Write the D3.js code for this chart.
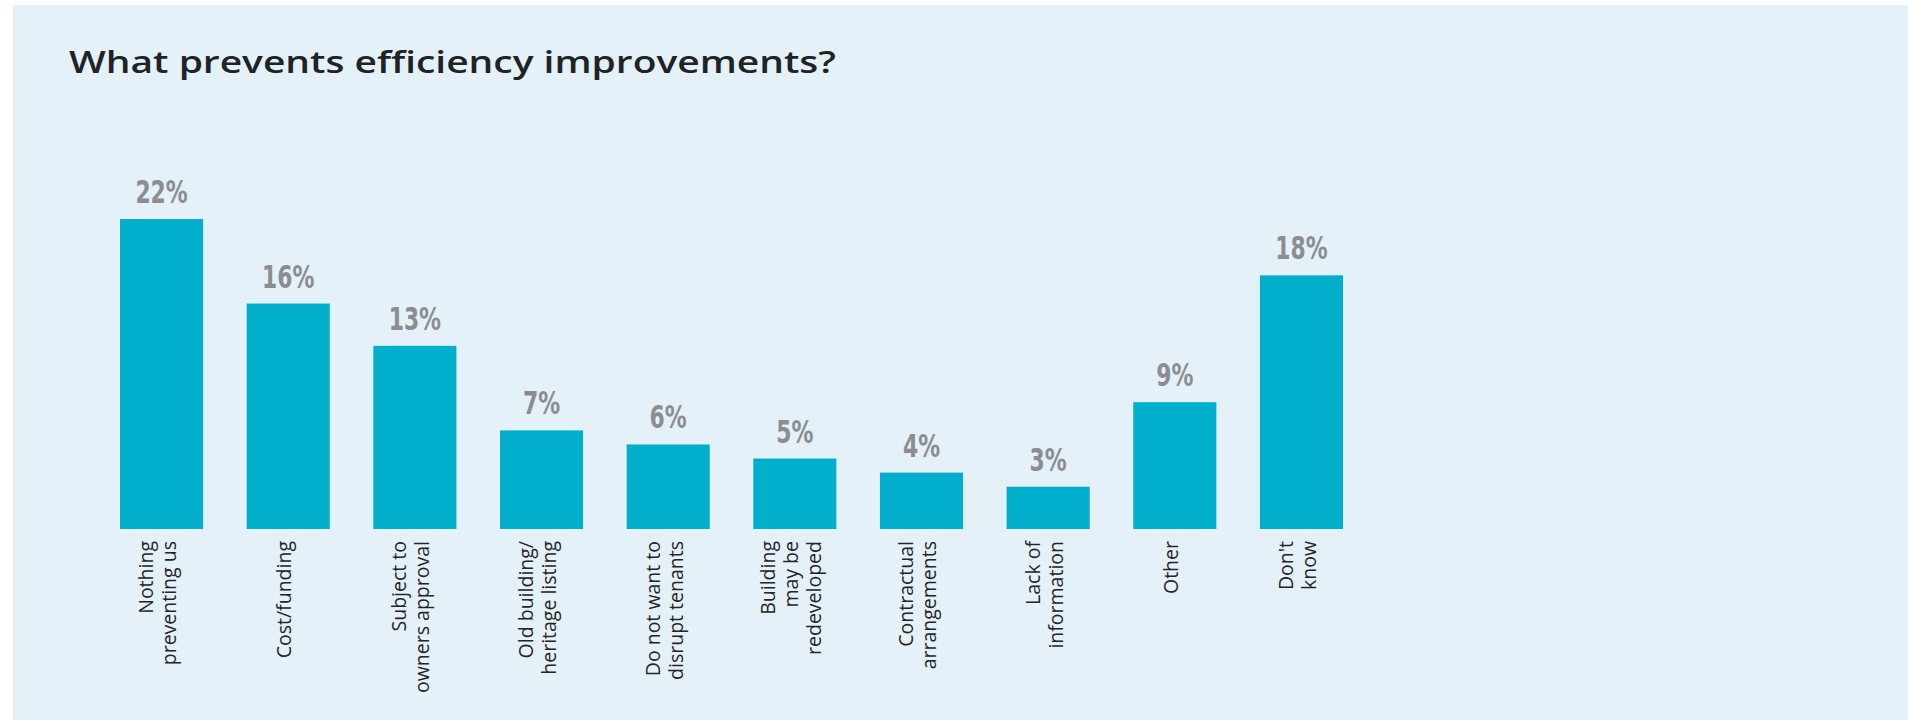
<!DOCTYPE html>
<html>
<head>
<meta charset="utf-8">
<script src="https://cdn.jsdelivr.net/npm/d3@7"></script>
<style>
  html, body { margin: 0; padding: 0; background: #ffffff; }
  svg { display: block; }
</style>
</head>
<body>
<div id="chart"></div>
<script>
// Survey answers: share of respondents naming each obstacle
const chartTitle = "What prevents efficiency improvements?";
const categories = [
  "Nothing\npreventing us",
  "Cost/funding",
  "Subject to\nowners approval",
  "Old building/\nheritage listing",
  "Do not want to\ndisrupt tenants",
  "Building\nmay be\nredeveloped",
  "Contractual\narrangements",
  "Lack of\ninformation",
  "Other",
  "Don't\nknow"
];
const values = [22, 16, 13, 7, 6, 5, 4, 3, 9, 18];

const W = 1908, H = 722;
const svg = d3.select("#chart").append("svg")
  .attr("width", W).attr("height", H);

// light blue card behind the chart
svg.append("rect")
  .attr("x", 13).attr("y", 5)
  .attr("width", W - 13).attr("height", 715)
  .attr("fill", "#e5f1f8");

// title
svg.append("text")
  .attr("x", 69).attr("y", 73)
  .attr("textLength", 767)
  .attr("lengthAdjust", "spacingAndGlyphs")
  .style("font-family", "'Open Sans', sans-serif")
  .style("font-weight", 600)
  .style("font-size", "30px")
  .attr("fill", "#1e2326")
  .text(chartTitle);

const x = d3.scaleBand()
  .domain(categories)
  .range([120, 1343])
  .paddingInner(0.344)
  .paddingOuter(0);

const y = d3.scaleLinear()
  .domain([0, 22])
  .range([529, 219]);

const data = categories.map((c, i) => ({ cat: c, value: values[i] }));

// bars
svg.append("g").selectAll("rect")
  .data(data)
  .join("rect")
  .attr("x", d => x(d.cat))
  .attr("y", d => y(d.value))
  .attr("width", x.bandwidth())
  .attr("height", d => y(0) - y(d.value))
  .attr("fill", "#01aecb");

// value labels above bars, in a narrow condensed face
svg.append("g").selectAll("text")
  .data(data)
  .join("text")
  .attr("transform", d =>
    `translate(${x(d.cat) + x.bandwidth() / 2},${y(d.value) - 16}) scale(0.76,1)`)
  .attr("text-anchor", "middle")
  .style("font-family", "'DejaVu Sans Condensed', 'Liberation Sans Narrow', sans-serif")
  .style("font-weight", 700)
  .style("font-size", "32px")
  .attr("fill", "#8b8d90")
  .text(d => d.value + "%");

// rotated category labels under the bars
const lineH = 23;
const labelTop = y(0) + 12;
const catG = svg.append("g");
data.forEach(d => {
  const lines = d.cat.split("\n");
  const cx = x(d.cat) + x.bandwidth() / 2;
  lines.forEach((ln, i) => {
    const bx = cx + (i - (lines.length - 1) / 2) * lineH + 3;
    catG.append("text")
      .attr("transform", `translate(${bx},${labelTop}) rotate(-90)`)
      .attr("text-anchor", "end")
      .style("font-family", "'Open Sans', sans-serif")
      .style("font-size", "19.5px")
      .style("font-weight", 500)
      .attr("fill", "#222527")
      .text(ln);
  });
});
</script>
</body>
</html>
